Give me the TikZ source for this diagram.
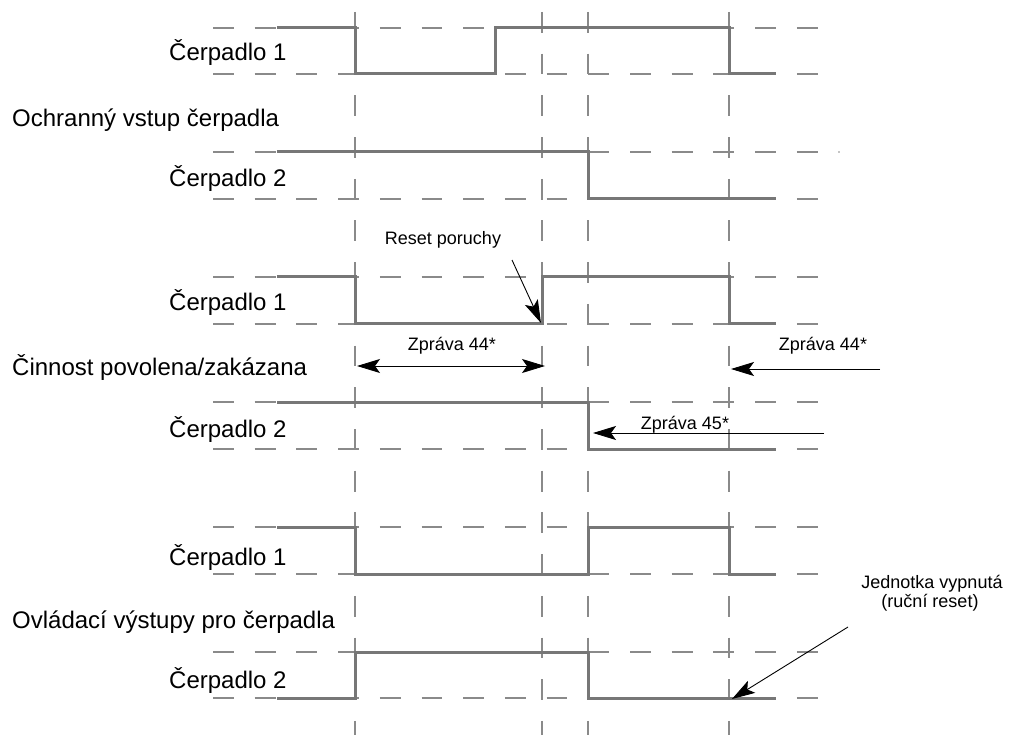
\documentclass[tikz,border=0pt]{standalone}
\usepackage{fontspec}
\setmainfont{Liberation Sans}
\usetikzlibrary{arrows.meta}
\definecolor{siggray}{HTML}{777777}
\definecolor{gridgray}{HTML}{8A8A8A}
\begin{document}
\begin{tikzpicture}[x=1pt,y=-1pt,
  grid/.style={draw=gridgray, line width=1.4pt, dash pattern=on 20.8pt off 20.9pt},
  sig/.style={draw=siggray, line width=3pt, line join=miter},
  big/.style={font=\fontsize{24}{28}\selectfont, inner sep=0pt, anchor=base west},
  small/.style={font=\fontsize{18}{20}\selectfont, inner sep=0pt, anchor=base},
  tip/.style={Stealth[length=23pt,width=14pt,inset=5pt]},
  arr/.style={draw=black, line width=0.9pt, -{Stealth[length=23pt,width=14pt,inset=5pt]}},
  darr/.style={draw=black, line width=0.9pt, {Stealth[length=23pt,width=14pt,inset=5pt]}-{Stealth[length=23pt,width=14pt,inset=5pt]}}]
\useasboundingbox (0,0) rectangle (1012,735);

% grid
\foreach \x in {355,542,588,729} \draw[grid] (\x,12) -- (\x,736);
\foreach \y in {28,74,152,199,277,324,402,449,527,574,652,698} \draw[grid] (213,\y) -- (818,\y);
\fill[gridgray] (839,152) circle (0.9pt);

% signals group 1
\draw[sig] (277,28) -- (355,28) -- (355,74) -- (495,74) -- (495,28) -- (729,28) -- (729,74) -- (776,74);
\draw[sig] (277,152) -- (588,152) -- (588,199) -- (776,199);
% group 2
\draw[sig] (277,277) -- (355,277) -- (355,324) -- (542,324) -- (542,277) -- (729,277) -- (729,324) -- (776,324);
\draw[sig] (277,402) -- (588,402) -- (588,449) -- (776,449);
% group 3
\draw[sig] (277,527) -- (355,527) -- (355,574) -- (588,574) -- (588,527) -- (729,527) -- (729,574) -- (776,574);
\draw[sig] (277,698) -- (355,698) -- (355,652) -- (588,652) -- (588,698) -- (776,698);

% labels
\node[big] (a1) at (169,61) {Čerpadlo 1};
\node[big] (ga) at (12,127) {Ochranný vstup čerpadla};
\node[big] (a2) at (169,187) {Čerpadlo 2};
\node[big] (b1) at (169,311) {Čerpadlo 1};
\node[big] (gb) at (12,375) {Činnost povolena/zakázana};
\node[big] (b2) at (169,437) {Čerpadlo 2};
\node[big] (c1) at (169,565) {Čerpadlo 1};
\node[big] (gc) at (12,628) {Ovládací výstupy pro čerpadla};
\node[big] (c2) at (169,688) {Čerpadlo 2};

\node[small] (reset) at (443,245) {Reset poruchy};
\node[small] (z44a) at (452,350) {Zpráva 44*};
\node[small] (z44b) at (823,350) {Zpráva 44*};
\node[small] (z45) at (685,429) {Zpráva 45*};
\node[small] (jv) at (932,588) {Jednotka vypnutá};
\node[small] (rr) at (930,607) {(ruční reset)};

% arrows
\coordinate (rsS) at (512,260);
\coordinate (rsE) at (541,323);
\draw[arr] (rsS) -- (rsE);
\coordinate (daL) at (357,366);
\coordinate (daR) at (545,366);
\draw[darr] (daL) -- (daR);
\coordinate (r1S) at (880,369);
\coordinate (r1E) at (731,369);
\draw[arr] (r1S) -- (r1E);
\coordinate (r2S) at (824,433);
\coordinate (r2E) at (593,433);
\draw[arr] (r2S) -- (r2E);
\coordinate (jS) at (848,627);
\coordinate (jE) at (732,699);
\draw[arr] (jS) -- (jE);
\end{tikzpicture}
\end{document}
